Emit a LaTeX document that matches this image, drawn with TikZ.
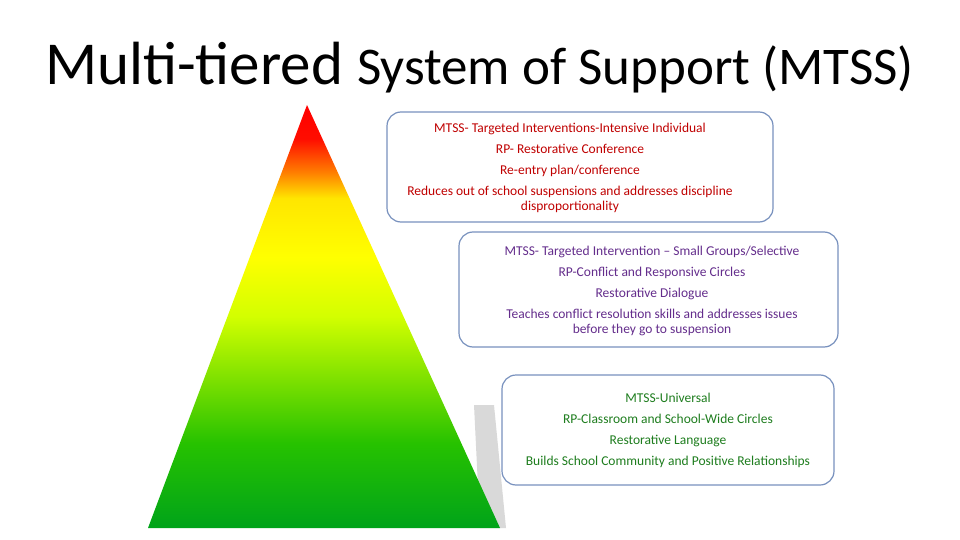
\documentclass[tikz,border=0pt]{standalone}
\usepackage{fontspec}
\setmainfont{Carlito}
\pgfdeclareverticalshading{pyr}{100bp}{
 color(0bp)=(green!60!black!90!cyan); color(25bp)=(green!60!black!90!cyan); color(35bp)=(green!70!black!80!lime);
 color(50bp)=(lime!70!yellow); color(57bp)=(yellow); color(64bp)=(yellow!80!orange); color(67bp)=(orange); color(71bp)=(red!90!orange); color(75bp)=(red); color(100bp)=(red)}
\definecolor{bx}{RGB}{120,145,190}
\definecolor{t1}{RGB}{192,0,0}
\definecolor{t2}{RGB}{100,45,140}
\definecolor{t3}{RGB}{30,125,30}
\tikzset{box/.style={draw=bx,line width=1.2pt,rounded corners=14pt,fill=white},
 txt/.style={align=center,font=\fontsize{13.5}{21}\selectfont}}
\begin{document}
\begin{tikzpicture}[x=1pt,y=-1pt]
\useasboundingbox (0,0) rectangle (960,540);
\node[anchor=base west,inner sep=0] (title) at (45,85) {\fontsize{61}{61}\selectfont Multi-tiered {\fontsize{53}{53}\selectfont System of Support (MTSS)}};
\fill[gray!30] (474,405) -- (494,405) -- (506,528) -- (480,528) -- cycle;
\shade[shading=pyr] (307,105) -- (148,528) -- (500,528) -- cycle;
\draw[box] (387,112) rectangle (773,222);
\draw[box] (459,232) rectangle (838,347);
\draw[box] (502,375) rectangle (834,485);
\node[txt,text=t1] (b1) at (570,168) {MTSS- Targeted Interventions-Intensive Individual\\RP- Restorative Conference\\Re-entry plan/conference\\Reduces out of school suspensions and addresses discipline\\[-6pt]disproportionality};
\node[txt,text=t2] (b2) at (652,291) {MTSS- Targeted Intervention -- Small Groups/Selective\\RP-Conflict and Responsive Circles\\Restorative Dialogue\\Teaches conflict resolution skills and addresses issues\\[-6pt]before they go to suspension};
\node[txt,text=t3] (b3) at (668,430) {MTSS-Universal\\RP-Classroom and School-Wide Circles\\Restorative Language\\Builds School Community and Positive Relationships};
\end{tikzpicture}
\end{document}
